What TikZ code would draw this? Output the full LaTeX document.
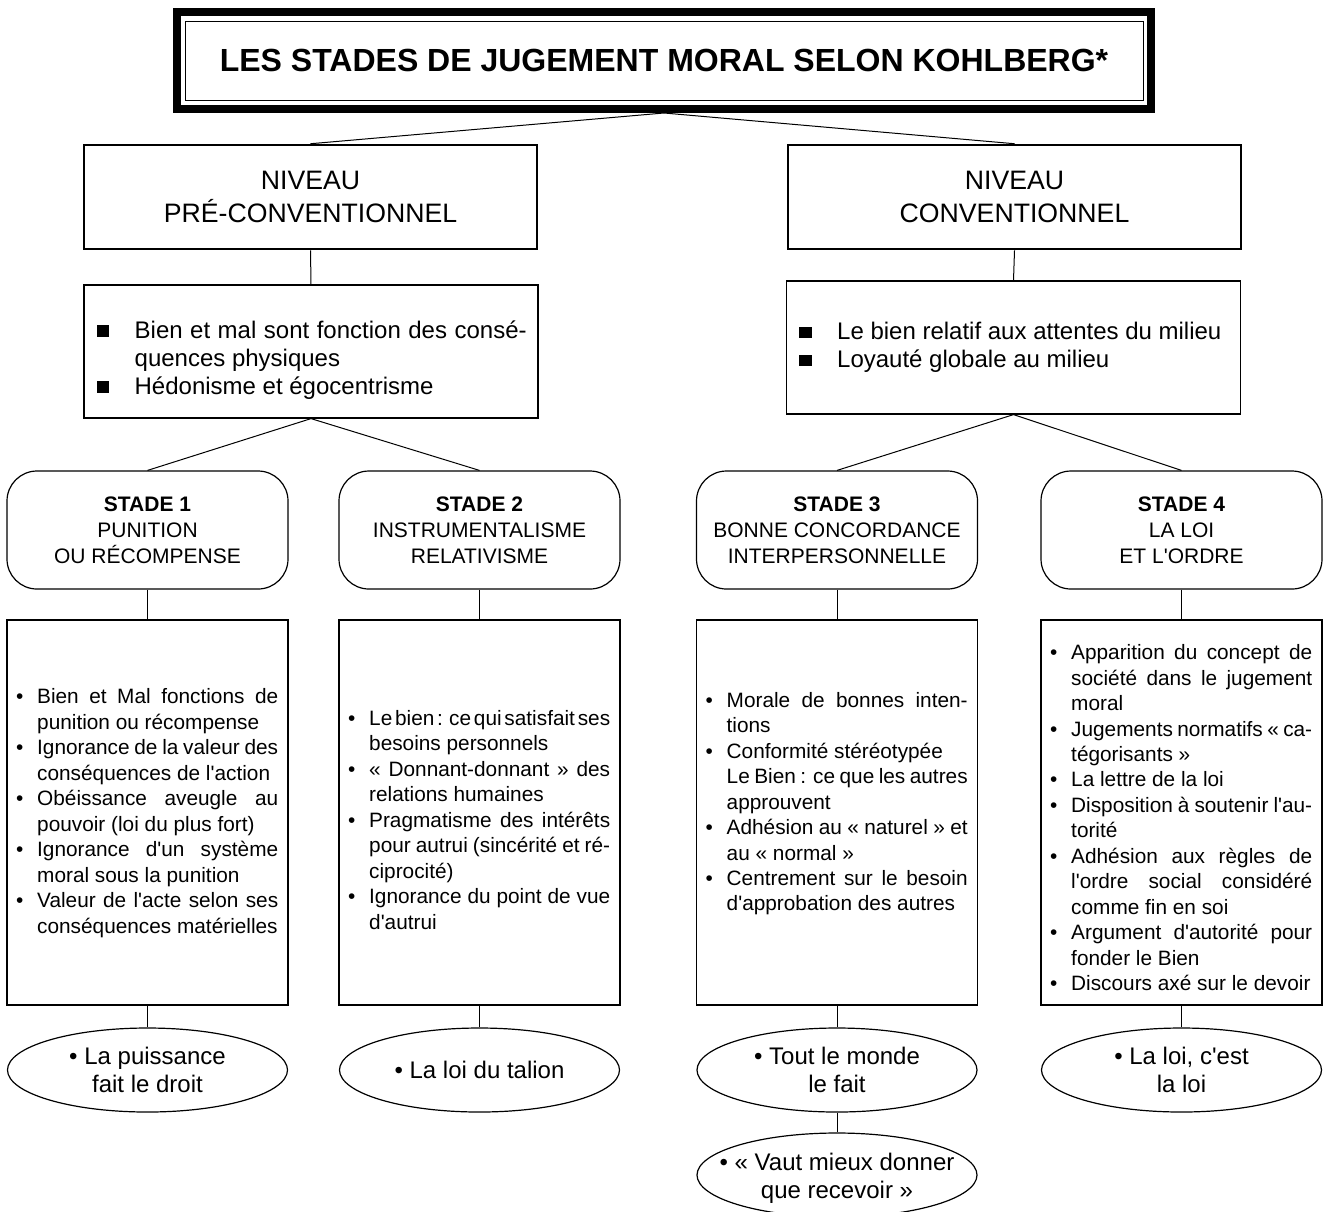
\documentclass[tikz,border=0pt]{standalone}
\usepackage{fontspec}
\setmainfont{Liberation Sans}[Ligatures=TeXOff]
\usetikzlibrary{shapes.geometric}

\newcommand\titlefont{\fontsize{24}{28}\selectfont\bfseries}
\newcommand\nivfont{\fontsize{20}{24.75}\selectfont}
\newcommand\boxfont{\fontsize{18}{21}\selectfont\hyphenpenalty=10000\exhyphenpenalty=10000\tolerance=9999\hbadness=10000\relax}
\newcommand\stfont{\fontsize{15.75}{19.5}\selectfont}
\newcommand\lstfont{\fontsize{15.6}{19.1}\selectfont\spaceskip=.278em plus .3em minus .22em\relax\hyphenpenalty=10000\exhyphenpenalty=10000\tolerance=9999\hbadness=10000\parindent=0pt\parskip=0pt\relax}
\newcommand\elfont{\fontsize{18}{21}\selectfont}
\newcommand\bul{\par\noindent\llap{\makebox[15.75pt][l]{•}}}
\newcommand\sqb{\par\noindent\llap{\makebox[28.5pt][l]{\rule[1pt]{9.5pt}{8.75pt}}}}

\tikzset{
 conn/.style={line width=0.75pt},
 titleframe/.style={draw, line width=6pt, minimum width=730.5pt, minimum height=72.75pt, inner sep=0pt},
 titleinner/.style={draw, line width=0.75pt, minimum width=718.5pt, minimum height=59.25pt, inner sep=0pt, font=\titlefont},
 nivbox/.style={draw, line width=1.9pt, minimum width=339.75pt, minimum height=78pt, inner sep=0pt, align=center, font=\nivfont},
 charbox/.style={draw, line width=0.9pt, minimum width=340.5pt, minimum height=99.75pt, inner sep=0pt},
 boxtext/.style={inner sep=0pt, text width=294pt, align=justify, font=\boxfont, anchor=west},
 stagebox/.style={draw, line width=0.9pt, rounded corners=22.5pt, minimum width=210.75pt, minimum height=88.5pt, inner sep=0pt, align=center, font=\stfont},
 listbox/.style={draw, line width=0.9pt, minimum width=210.75pt, minimum height=288.75pt, inner sep=0pt},
 listtext/.style={inner sep=0pt, text width=180.75pt, align=justify, font=\lstfont, anchor=west},
 maxim/.style={draw, ellipse, line width=0.9pt, minimum width=210pt, minimum height=63pt, inner sep=0pt, align=center, font=\elfont},
 maximtext/.style={inner sep=0pt, align=center, font=\elfont},
}

\begin{document}
\begin{tikzpicture}[x=0.75pt,y=-0.75pt]
\useasboundingbox (0,0) rectangle (1326,1211);
\clip (0,0) rectangle (1326,1211);

% title
\node[titleframe] (title) at (664,60.5) {};
\node[titleinner] (titlein) at (664,60.5) {LES STADES DE JUGEMENT MORAL SELON KOHLBERG*};

% levels
\node[nivbox] (NL) at (310.5,197) {NIVEAU\\PRÉ-CONVENTIONNEL};
\node[nivbox] (NR) at (1014.5,197) {NIVEAU\\CONVENTIONNEL};

\node[charbox] (BL) at (311,351.5) {};
\node[boxtext] (BLt) at ([xshift=38.25pt,yshift=-2.6pt]BL.west) {\sqb Bien et mal sont fonction des consé-\linebreak quences physiques\sqb Hédonisme et égocentrisme};
\node[charbox] (BR) at (1013.5,347.5) {};
\node[boxtext] (BRt) at ([xshift=38.25pt,yshift=4.1pt]BR.west) {\sqb Le bien relatif aux attentes du milieu\sqb Loyauté globale au milieu};

% stages
\node[stagebox] (S1) at (147.5,530) {\textbf{STADE 1}\\PUNITION\\OU RÉCOMPENSE};
\node[stagebox] (S2) at (479.5,530) {\textbf{STADE 2}\\INSTRUMENTALISME\\RELATIVISME};
\node[stagebox] (S3) at (837,530) {\textbf{STADE 3}\\BONNE CONCORDANCE\\INTERPERSONNELLE};
\node[stagebox] (S4) at (1181.5,530) {\textbf{STADE 4}\\LA LOI\\ET L'ORDRE};

% lists
\node[listbox] (L1) at (147.5,812.5) {};
\node[listbox] (L2) at (479.5,812.5) {};
\node[listbox] (L3) at (837,812.5) {};
\node[listbox] (L4) at (1181.5,812.5) {};

\node[listtext] (T1) at ([xshift=22.9pt,yshift=3.4pt]L1.west) {%
\bul Bien et Mal fonctions de\linebreak punition ou récompense
\bul Ignorance de la valeur des\linebreak conséquences de l'action
\bul Obéissance aveugle au\linebreak pouvoir (loi du plus fort)
\bul Ignorance d'un système\linebreak moral sous la punition
\bul Valeur de l'acte selon ses\linebreak conséquences matérielles};

\node[listtext] (T2) at ([xshift=22.9pt,yshift=-1.5pt]L2.west) {%
\bul Le bien : ce qui satisfait ses\linebreak besoins personnels
\bul «~Donnant-donnant~» des\linebreak relations humaines
\bul Pragmatisme des intérêts\linebreak pour autrui (sincérité et ré-\linebreak ciprocité)
\bul Ignorance du point de vue\linebreak d'autrui};

\node[listtext] (T3) at ([xshift=22.9pt,yshift=10.5pt]L3.west) {%
\bul Morale de bonnes inten-\linebreak tions
\bul Conformité stéréotypée\hfil\break Le Bien : ce que les autres\linebreak approuvent
\bul Adhésion au «~naturel~» et\linebreak au «~normal~»
\bul Centrement sur le besoin\linebreak d'approbation des autres};

\node[listtext] (T4) at ([xshift=22.9pt]L4.west) {%
\bul Apparition du concept de\linebreak société dans le jugement\linebreak moral
\bul Jugements normatifs «~ca-\linebreak tégorisants~»
\bul La lettre de la loi
\bul Disposition à soutenir l'au-\linebreak torité
\bul Adhésion aux règles de\linebreak l'ordre social considéré\linebreak comme fin en soi
\bul Argument d'autorité pour\linebreak fonder le Bien
\bul Discours axé sur le devoir};

% maxims
\node[maxim] (E1) at (147.5,1070) {• La puissance\\fait le droit};
\node[maxim] (E2) at (479.5,1070) {• La loi du talion};
\node[maxim] (E3) at (837,1070) {• Tout le monde\\le fait};
\node[maxim] (E4) at (1181.5,1070) {• La loi, c'est\\la loi};
\node[maxim] (E5) at (837,1175) {};
\node[maximtext] (E5t) at (837,1178) {• «~Vaut mieux donner\\que recevoir~»};

% connectors
\draw[conn] (title.south) -- (NL.north);
\draw[conn] (title.south) -- (NR.north);
\draw[conn] (NL.south) -- (BL.north);
\draw[conn] (NR.south) -- (BR.north);
\draw[conn] (BL.south) -- (S1.north);
\draw[conn] (BL.south) -- (S2.north);
\draw[conn] (BR.south) -- (S3.north);
\draw[conn] (BR.south) -- (S4.north);
\foreach \i in {1,2,3,4}{
  \draw[conn] (S\i.south) -- (L\i.north);
  \draw[conn] (L\i.south) -- (E\i.north);
}
\draw[conn] (E3.south) -- (E5.north);
\end{tikzpicture}
\end{document}
